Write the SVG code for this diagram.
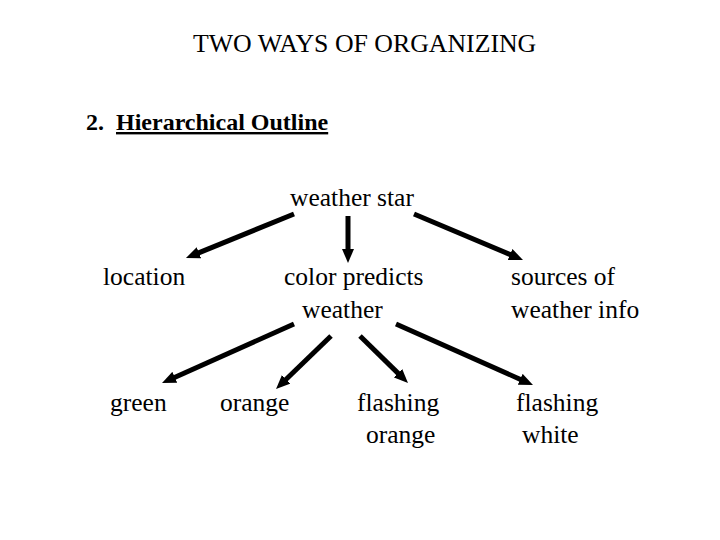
<svg xmlns="http://www.w3.org/2000/svg" width="720" height="540" viewBox="0 0 720 540">
<style>
text{font-family:'Liberation Serif','Times New Roman',serif;font-size:25.5px;fill:#000}
.t{font-size:25.8px}
.b{font-weight:bold;font-size:24px}
.c line{stroke:#000;stroke-width:5;marker-end:url(#ah)}
</style>
<defs>
<marker id="ah" viewBox="0 0 14 12" markerWidth="14" markerHeight="12" markerUnits="userSpaceOnUse" refX="1" refY="6" orient="auto">
<path d="M0,0 L14,6 L0,12 z" fill="#000"/>
</marker>
</defs>
<rect width="720" height="540" fill="#fff"/>
<g id="title"><text class="t" x="193" y="52">TWO WAYS OF ORGANIZING</text></g>
<g id="heading">
<text class="b" x="86" y="130">2.<tspan x="116" text-decoration="underline">Hierarchical Outline</tspan></text>
</g>
<g id="n-root"><text x="290" y="206">weather star</text></g>
<g id="n-location"><text x="103" y="285">location</text></g>
<g id="n-color"><text x="284" y="285">color predicts</text><text x="302" y="318">weather</text></g>
<g id="n-sources"><text x="511" y="285">sources of</text><text x="511" y="318">weather info</text></g>
<g id="n-green"><text x="110" y="411">green</text></g>
<g id="n-orange"><text x="220" y="411">orange</text></g>
<g id="n-flashorange"><text x="357" y="411">flashing</text><text x="366" y="443">orange</text></g>
<g id="n-flashwhite"><text x="516" y="411">flashing</text><text x="522" y="443">white</text></g>
<g id="connectors" class="c">
<line x1="294" y1="214" x2="198" y2="253.1"/>
<line x1="348" y1="216" x2="348" y2="250"/>
<line x1="414" y1="214" x2="511" y2="254.9"/>
<line x1="294" y1="324" x2="173.9" y2="377.7"/>
<line x1="331" y1="336" x2="285.4" y2="380"/>
<line x1="360" y1="336" x2="398.7" y2="373.9"/>
<line x1="396" y1="324" x2="521.1" y2="379.7"/>
</g>
</svg>
